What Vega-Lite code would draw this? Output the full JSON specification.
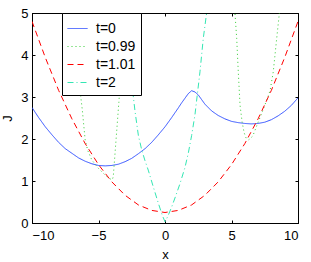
{
  "$schema": "https://vega.github.io/schema/vega-lite/v6.json",
  "width": 266,
  "height": 210,
  "autosize": "none",
  "padding": {"left": 32, "top": 13, "right": 13, "bottom": 39},
  "background": "white",
  "view": {"stroke": "black", "strokeWidth": 1},
  "config": {
    "font": "Liberation Sans",
    "axis": {"domainColor": "black", "tickColor": "black", "labelColor": "black", "titleColor": "black", "labelFont": "Liberation Sans", "titleFont": "Liberation Sans", "labelFontSize": 13, "titleFontSize": 13, "titleFontWeight": "normal", "grid": false, "tickSize": -3, "labelPadding": 9},
    "legend": {"labelFont": "Liberation Sans", "labelFontSize": 14, "labelColor": "black"}
  },
  "data": {"values": [
    {"t": "t=0", "x": -10, "J": 2.75}, {"t": "t=0", "x": -9.5, "J": 2.51}, {"t": "t=0", "x": -9, "J": 2.29}, {"t": "t=0", "x": -8.5, "J": 2.10}, {"t": "t=0", "x": -8, "J": 1.92}, {"t": "t=0", "x": -7.5, "J": 1.77}, {"t": "t=0", "x": -7, "J": 1.66}, {"t": "t=0", "x": -6.5, "J": 1.55}, {"t": "t=0", "x": -6, "J": 1.47}, {"t": "t=0", "x": -5.5, "J": 1.41}, {"t": "t=0", "x": -5, "J": 1.37}, {"t": "t=0", "x": -4.5, "J": 1.36}, {"t": "t=0", "x": -4, "J": 1.37}, {"t": "t=0", "x": -3.5, "J": 1.40}, {"t": "t=0", "x": -3, "J": 1.46}, {"t": "t=0", "x": -2.5, "J": 1.54}, {"t": "t=0", "x": -2, "J": 1.65}, {"t": "t=0", "x": -1.5, "J": 1.77}, {"t": "t=0", "x": -1, "J": 1.92}, {"t": "t=0", "x": -0.5, "J": 2.10}, {"t": "t=0", "x": 0, "J": 2.29}, {"t": "t=0", "x": 0.5, "J": 2.51}, {"t": "t=0", "x": 1, "J": 2.74}, {"t": "t=0", "x": 1.25, "J": 2.86}, {"t": "t=0", "x": 1.5, "J": 2.97}, {"t": "t=0", "x": 1.75, "J": 3.08}, {"t": "t=0", "x": 2, "J": 3.15}, {"t": "t=0", "x": 2.25, "J": 3.12}, {"t": "t=0", "x": 2.5, "J": 3.05}, {"t": "t=0", "x": 2.75, "J": 2.94}, {"t": "t=0", "x": 3, "J": 2.83}, {"t": "t=0", "x": 3.5, "J": 2.67}, {"t": "t=0", "x": 4, "J": 2.56}, {"t": "t=0", "x": 4.5, "J": 2.48}, {"t": "t=0", "x": 5, "J": 2.42}, {"t": "t=0", "x": 5.5, "J": 2.39}, {"t": "t=0", "x": 6, "J": 2.37}, {"t": "t=0", "x": 6.5, "J": 2.36}, {"t": "t=0", "x": 7, "J": 2.37}, {"t": "t=0", "x": 7.5, "J": 2.40}, {"t": "t=0", "x": 8, "J": 2.46}, {"t": "t=0", "x": 8.5, "J": 2.55}, {"t": "t=0", "x": 9, "J": 2.66}, {"t": "t=0", "x": 9.5, "J": 2.80}, {"t": "t=0", "x": 10, "J": 2.98},

    {"t": "t=0.99", "x": -7.0, "J": 5.6}, {"t": "t=0.99", "x": -6.8, "J": 4.6}, {"t": "t=0.99", "x": -6.6, "J": 3.9}, {"t": "t=0.99", "x": -6.45, "J": 3.4}, {"t": "t=0.99", "x": -6.35, "J": 3.05}, {"t": "t=0.99", "x": -6.22, "J": 2.7}, {"t": "t=0.99", "x": -6.1, "J": 2.3}, {"t": "t=0.99", "x": -6.0, "J": 1.97}, {"t": "t=0.99", "x": -5.8, "J": 1.72}, {"t": "t=0.99", "x": -5.5, "J": 1.5}, {"t": "t=0.99", "x": -5.0, "J": 1.3}, {"t": "t=0.99", "x": -4.5, "J": 1.14}, {"t": "t=0.99", "x": -4.2, "J": 1.06}, {"t": "t=0.99", "x": -3.97, "J": 1.03}, {"t": "t=0.99", "x": -3.89, "J": 1.10}, {"t": "t=0.99", "x": -3.75, "J": 1.69}, {"t": "t=0.99", "x": -3.6, "J": 2.32}, {"t": "t=0.99", "x": -3.47, "J": 2.87}, {"t": "t=0.99", "x": -3.38, "J": 3.25}, {"t": "t=0.99", "x": -3.2, "J": 4.0}, {"t": "t=0.99", "x": -3.0, "J": 4.85}, {"t": "t=0.99", "x": -2.85, "J": 5.8}, {"t": "t=0.99", "x": 5.1, "J": 5.8}, {"t": "t=0.99", "x": 5.26, "J": 5.0}, {"t": "t=0.99", "x": 5.39, "J": 4.4}, {"t": "t=0.99", "x": 5.51, "J": 3.6}, {"t": "t=0.99", "x": 5.64, "J": 2.81}, {"t": "t=0.99", "x": 5.8, "J": 2.4}, {"t": "t=0.99", "x": 5.95, "J": 2.15}, {"t": "t=0.99", "x": 6.1, "J": 2.02}, {"t": "t=0.99", "x": 6.3, "J": 1.98}, {"t": "t=0.99", "x": 6.6, "J": 2.07}, {"t": "t=0.99", "x": 7.0, "J": 2.4}, {"t": "t=0.99", "x": 7.27, "J": 2.61}, {"t": "t=0.99", "x": 7.65, "J": 2.93}, {"t": "t=0.99", "x": 7.9, "J": 3.15}, {"t": "t=0.99", "x": 8.14, "J": 3.6}, {"t": "t=0.99", "x": 8.4, "J": 4.4}, {"t": "t=0.99", "x": 8.6, "J": 5.0}, {"t": "t=0.99", "x": 8.8, "J": 5.8},

    {"t": "t=1.01", "x": -10, "J": 4.80}, {"t": "t=1.01", "x": -9, "J": 3.94}, {"t": "t=1.01", "x": -8, "J": 3.16}, {"t": "t=1.01", "x": -7, "J": 2.48}, {"t": "t=1.01", "x": -6, "J": 1.89}, {"t": "t=1.01", "x": -5, "J": 1.39}, {"t": "t=1.01", "x": -4, "J": 0.98}, {"t": "t=1.01", "x": -3, "J": 0.66}, {"t": "t=1.01", "x": -2, "J": 0.43}, {"t": "t=1.01", "x": -1, "J": 0.30}, {"t": "t=1.01", "x": 0, "J": 0.25}, {"t": "t=1.01", "x": 1, "J": 0.30}, {"t": "t=1.01", "x": 2, "J": 0.43}, {"t": "t=1.01", "x": 3, "J": 0.66}, {"t": "t=1.01", "x": 4, "J": 0.98}, {"t": "t=1.01", "x": 5, "J": 1.39}, {"t": "t=1.01", "x": 6, "J": 1.89}, {"t": "t=1.01", "x": 7, "J": 2.48}, {"t": "t=1.01", "x": 8, "J": 3.16}, {"t": "t=1.01", "x": 9, "J": 3.94}, {"t": "t=1.01", "x": 10, "J": 4.80},

    {"t": "t=2", "x": -3.3, "J": 5.6}, {"t": "t=2", "x": -3.13, "J": 5.0}, {"t": "t=2", "x": -2.88, "J": 4.3}, {"t": "t=2", "x": -2.5, "J": 3.33}, {"t": "t=2", "x": -2.25, "J": 2.65}, {"t": "t=2", "x": -2.0, "J": 2.08}, {"t": "t=2", "x": -1.75, "J": 1.74}, {"t": "t=2", "x": -1.5, "J": 1.48}, {"t": "t=2", "x": -1.26, "J": 1.26}, {"t": "t=2", "x": -0.88, "J": 0.86}, {"t": "t=2", "x": -0.5, "J": 0.47}, {"t": "t=2", "x": -0.2, "J": 0.18}, {"t": "t=2", "x": 0.0, "J": 0.03}, {"t": "t=2", "x": 0.2, "J": 0.15}, {"t": "t=2", "x": 0.5, "J": 0.38}, {"t": "t=2", "x": 0.8, "J": 0.64}, {"t": "t=2", "x": 1.13, "J": 0.94}, {"t": "t=2", "x": 1.5, "J": 1.32}, {"t": "t=2", "x": 1.75, "J": 1.66}, {"t": "t=2", "x": 2.0, "J": 2.08}, {"t": "t=2", "x": 2.25, "J": 2.57}, {"t": "t=2", "x": 2.63, "J": 3.6}, {"t": "t=2", "x": 2.88, "J": 4.4}, {"t": "t=2", "x": 3.13, "J": 5.0}, {"t": "t=2", "x": 3.3, "J": 5.6}
  ]},
  "resolve": {"axis": {"x": "independent", "y": "independent"}},
  "layer": [
    {
      "mark": {"type": "line", "clip": true, "strokeWidth": 1},
      "encoding": {
        "x": {"field": "x", "type": "quantitative", "scale": {"domain": [-10, 10], "nice": false, "zero": false}, "axis": {"values": [-10, -5, 0, 5, 10], "title": "x", "titlePadding": 6}},
        "y": {"field": "J", "type": "quantitative", "scale": {"domain": [0, 5], "nice": false, "zero": false}, "axis": {"values": [0, 1, 2, 3, 4, 5], "title": "J", "labelPadding": 7, "titlePadding": 6}},
        "color": {"field": "t", "type": "nominal", "scale": {"domain": ["t=0", "t=0.99", "t=1.01", "t=2"], "range": ["#2f4fff", "#33cc33", "#ff0000", "#33e6b3"]}, "legend": {"title": null, "orient": "none", "legendX": 30, "legendY": 0, "fillColor": "white", "strokeColor": "black", "padding": 5, "symbolType": "stroke", "symbolSize": 400, "symbolStrokeWidth": 1, "labelOffset": 8, "rowPadding": -4}},
        "strokeDash": {"field": "t", "type": "nominal", "scale": {"domain": ["t=0", "t=0.99", "t=1.01", "t=2"], "range": [[1, 0], [1, 3], [6, 4], [6, 3, 1, 3]]}, "legend": {"title": null, "orient": "none", "legendX": 30, "legendY": 0}},
        "order": {"field": "x", "type": "quantitative"}
      }
    },
    {
      "mark": {"type": "line", "opacity": 0},
      "encoding": {
        "x": {"field": "x", "type": "quantitative", "axis": {"orient": "top", "values": [-10, -5, 0, 5, 10], "labels": false, "title": null}},
        "y": {"field": "J", "type": "quantitative", "axis": {"orient": "right", "values": [0, 1, 2, 3, 4, 5], "labels": false, "title": null}}
      }
    }
  ]
}
